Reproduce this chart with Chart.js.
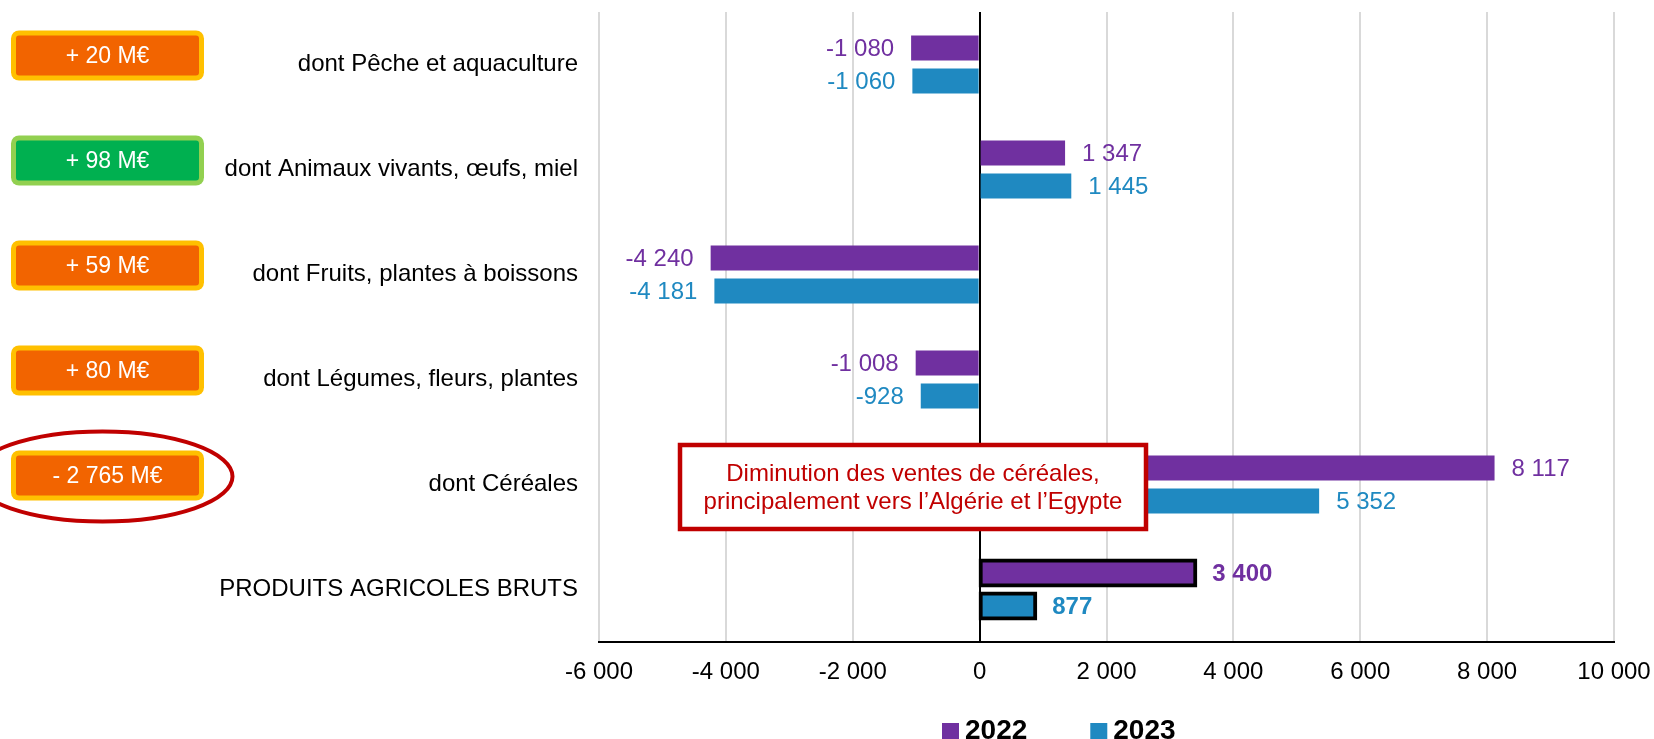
<!DOCTYPE html>
<html lang="fr">
<head>
<meta charset="utf-8">
<title>Produits agricoles bruts</title>
<script src="https://cdn.jsdelivr.net/npm/chart.js@4"></script>
<style>
  html, body { margin: 0; padding: 0; background: #fff; overflow: hidden; }
  #wrap { position: relative; width: 1654px; height: 739px; }
</style>
</head>
<body>
<div id="wrap"><canvas id="chart" width="1654" height="739"></canvas></div>
<script>
// Données
const categories = [
    'dont Pêche et aquaculture',
    'dont Animaux vivants, œufs, miel',
    'dont Fruits, plantes à boissons',
    'dont Légumes, fleurs, plantes',
    'dont Céréales',
    'PRODUITS AGRICOLES BRUTS'
];
const values2022 = [-1080, 1347, -4240, -1008, 8117, 3400];
const values2023 = [-1060, 1445, -4181, -928, 5352, 877];
const badges = ['+ 20 M€', '+ 98 M€', '+ 59 M€', '+ 80 M€', '- 2 765 M€'];
const badgeUp = [false, true, false, false, false];
const xTicks = { min: -6000, max: 10000, step: 2000 };
const noteLines = ['Diminution des ventes de céréales,', 'principalement vers l’Algérie et l’Egypte'];

// Styles
const FONT = '"Liberation Sans", Arial, sans-serif';
const PURPLE = '#7030a0';
const BLUE = '#1f89c1';
const DARK_RED = '#c00000';
const TOTAL = categories.length - 1;

const fmt = (v) => {
    const s = Math.abs(Math.round(v)).toString().replace(/\B(?=(\d{3})+(?!\d))/g, ' ');
    return (v < 0 ? '-' : '') + s;
};

function roundRect(ctx, x, y, w, h, r) {
    ctx.beginPath();
    ctx.moveTo(x + r, y);
    ctx.arcTo(x + w, y, x + w, y + h, r);
    ctx.arcTo(x + w, y + h, x, y + h, r);
    ctx.arcTo(x, y + h, x, y, r);
    ctx.arcTo(x, y, x + w, y, r);
    ctx.closePath();
}

// Etiquettes de valeurs au bout des barres
const valueLabels = {
    id: 'valueLabels',
    afterDatasetsDraw(chart) {
        const ctx = chart.ctx;
        ctx.save();
        ctx.textBaseline = 'middle';
        chart.data.datasets.forEach((ds, di) => {
            chart.getDatasetMeta(di).data.forEach((bar, i) => {
                const v = ds.data[i];
                ctx.font = (i === TOTAL ? 'bold ' : '') + '24px ' + FONT;
                ctx.fillStyle = ds.backgroundColor;
                ctx.textAlign = v < 0 ? 'right' : 'left';
                ctx.fillText(fmt(v), bar.x + (v < 0 ? -17 : 17), bar.y + 1);
            });
        });
        ctx.restore();
    }
};

// Pastilles, ellipse, encadré et légende
const decorations = {
    id: 'decorations',
    afterDraw(chart) {
        const ctx = chart.ctx;
        const y = chart.scales.y;
        ctx.save();

        badges.forEach((txt, i) => {
            const cy = y.getPixelForValue(i) - 9;
            const x = 11, w = 193, h = 50, top = cy - h / 2;
            roundRect(ctx, x, top, w, h, 8);
            ctx.fillStyle = badgeUp[i] ? '#92d050' : '#ffc000';
            ctx.fill();
            roundRect(ctx, x + 5, top + 5, w - 10, h - 10, 3);
            ctx.fillStyle = badgeUp[i] ? '#00b050' : '#f26400';
            ctx.fill();
            ctx.fillStyle = '#fff';
            ctx.font = '23px ' + FONT;
            ctx.textAlign = 'center';
            ctx.textBaseline = 'middle';
            ctx.fillText(txt, x + w / 2, cy + 1);
        });

        // ellipse autour de la pastille Céréales
        const ey = y.getPixelForValue(4) - 8;
        ctx.beginPath();
        ctx.ellipse(102.5, ey, 130, 45, 0, 0, Math.PI * 2);
        ctx.strokeStyle = DARK_RED;
        ctx.lineWidth = 4;
        ctx.stroke();

        // encadré
        const by = y.getPixelForValue(4) + 2.5;
        ctx.fillStyle = '#fff';
        ctx.fillRect(680, by - 42, 466, 84);
        ctx.lineWidth = 4.5;
        ctx.strokeRect(680, by - 42, 466, 84);
        ctx.fillStyle = DARK_RED;
        ctx.font = '24px ' + FONT;
        ctx.textAlign = 'center';
        ctx.textBaseline = 'middle';
        ctx.fillText(noteLines[0], 913, by - 13);
        ctx.fillText(noteLines[1], 913, by + 15);

        // légende
        ctx.font = 'bold 28px ' + FONT;
        ctx.textAlign = 'left';
        ctx.textBaseline = 'alphabetic';
        let lx = 942;
        chart.data.datasets.forEach((ds) => {
            ctx.fillStyle = ds.backgroundColor;
            ctx.fillRect(lx, 723, 17, 17);
            ctx.fillStyle = '#000';
            ctx.fillText(ds.label, lx + 23, 739);
            lx += 23 + ctx.measureText(ds.label).width + 63;
        });

        ctx.restore();
    }
};

function makeDataset(label, data, color) {
    return {
        label: label,
        data: data,
        backgroundColor: color,
        borderColor: '#000',
        borderWidth: (c) => c.dataIndex === TOTAL ? 4 : 0,
        inflateAmount: (c) => c.dataIndex === TOTAL ? 2 : 0,
        borderSkipped: false,
        barPercentage: 0.76,
        categoryPercentage: 0.63
    };
}

new Chart(document.getElementById('chart'), {
    type: 'bar',
    data: {
        labels: categories,
        datasets: [
            makeDataset('2022', values2022, PURPLE),
            makeDataset('2023', values2023, BLUE)
        ]
    },
    options: {
        indexAxis: 'y',
        responsive: false,
        animation: false,
        devicePixelRatio: 1,
        layout: { padding: { top: 12, right: 40, bottom: 0, left: 0 } },
        scales: {
            x: {
                min: xTicks.min,
                max: xTicks.max,
                ticks: {
                    stepSize: xTicks.step,
                    callback: (v) => fmt(v),
                    font: { family: FONT, size: 24 },
                    color: '#000',
                    padding: 16,
                    maxRotation: 0,
                    autoSkip: false
                },
                grid: {
                    color: (c) => c.tick && c.tick.value === 0 ? '#000' : '#d9d9d9',
                    lineWidth: 2,
                    drawTicks: false
                },
                border: { display: true, color: '#000', width: 2 },
                afterFit: (s) => {
                    s.height = 97;
                    s.paddingLeft = 0;
                    s.paddingRight = 0;
                }
            },
            y: {
                ticks: {
                    font: { family: FONT, size: 24 },
                    color: '#000',
                    padding: 21
                },
                grid: { display: false, drawTicks: false },
                border: { display: false },
                afterFit: (s) => {
                    s.width = 599;
                    s.paddingTop = 0;
                    s.paddingBottom = 0;
                }
            }
        },
        plugins: {
            legend: { display: false },
            tooltip: { enabled: false }
        }
    },
    plugins: [valueLabels, decorations]
});
</script>
</body>
</html>
